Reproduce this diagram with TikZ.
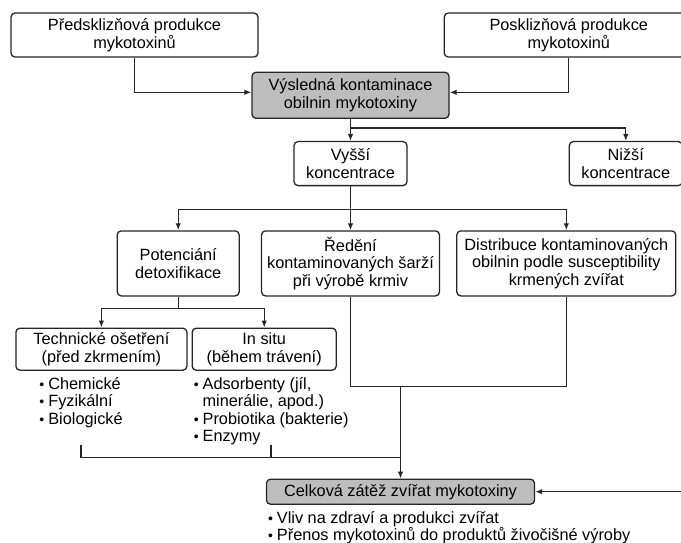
\documentclass[tikz,border=0pt]{standalone}
\usepackage{fontspec}
\setmainfont{Liberation Sans}
\usepackage{tikz}
\usetikzlibrary{arrows.meta, positioning}
\definecolor{boxgray}{gray}{0.74}
\tikzset{
  box/.style={
    rectangle,
    draw=black!85,
    line width=1.3pt,
    fill=white,
    rounded corners=4pt,
    align=center,
    inner sep=2pt,
    minimum height=44pt
  },
  graybox/.style={
    box,
    fill=boxgray
  },
  arrow/.style={
    line width=1.3pt,
    draw=black!85,
    -{Latex[length=7pt,width=5.5pt]}
  },
  line/.style={
    line width=1.3pt,
    draw=black!85
  },
  list/.style={
    align=left,
    inner sep=0pt
  }
}
\newcommand{\blt}{{\fontsize{14}{14}\selectfont •}\hspace{4pt}}

\begin{document}
\begin{tikzpicture}[font=\fontsize{16.3}{17.5}\selectfont]
  \useasboundingbox (0,0) rectangle (681pt,-543pt);
  \clip (0,0) rectangle (681pt,-543pt);

  % Sources
  \node[box, minimum width=247pt] (pre) at (134.5pt,-35pt) {Předsklizňová produkce\\mykotoxinů};
  \node[box, minimum width=249pt, right=185pt of pre] (post) {Posklizňová produkce\\mykotoxinů};
  \node[graybox, minimum width=197pt, minimum height=46pt, below=14pt of pre, xshift=216pt] (res) {Výsledná kontaminace\\obilnin mykotoxiny};

  % Concentration
  \node[box, minimum width=113pt, below=22pt of res] (hi) {Vyšší\\koncentrace};
  \node[box, minimum width=113pt, right=161pt of hi] (lo) {Nižší\\koncentrace};

  % Measures
  \node[box, minimum width=178pt, minimum height=65pt, below=44pt of hi] (dil) {Ředění\\kontaminovaných šarží\\při výrobě krmiv};
  \node[box, minimum width=122pt, minimum height=65pt, left=21pt of dil] (det) {Potenciání\\detoxifikace};
  \node[box, minimum width=219pt, minimum height=65pt, right=16pt of dil] (dist) {Distribuce kontaminovaných\\obilnin podle susceptibility\\krmených zvířat};

  % Detoxification
  \node[box, minimum width=144pt, minimum height=42pt, below=31pt of det, xshift=86pt] (situ) {In situ\\(během trávení)};
  \node[box, minimum width=171pt, minimum height=42pt, left=4pt of situ] (tech) {Technické ošetření\\(před zkrmením)};
  \node[list, below right=6pt and 24pt of tech.south west] (techlist) {\blt Chemické\\\blt Fyzikální\\\blt Biologické};
  \node[list, below right=6pt and 2pt of situ.south west] (situlist) {\blt Adsorbenty (jíl,\\\phantom{\blt}minerálie, apod.)\\\blt Probiotika (bakterie)\\\blt Enzymy};

  % Total load
  \node[graybox, minimum width=268pt, minimum height=25pt, below=182pt of dil, xshift=50pt] (tot) {Celková zátěž zvířat mykotoxiny};
  \node[list, below right=6pt and 2pt of tot.south west, font=\fontsize{16.3}{16}\selectfont] (totlist) {\blt Vliv na zdraví a produkci zvířat\\\blt Přenos mykotoxinů do produktů živočišné výroby};

  % Connectors
  \draw[arrow] (pre.south) |- ([yshift=3pt]res.west);
  \draw[arrow] (post.south) |- ([yshift=3pt]res.east);
  \draw[arrow] (res) -- (hi);
  \draw[arrow] ([yshift=-9pt]res.south) -| (lo);

  \draw[arrow] (hi) -- (dil);
  \draw[arrow] ([yshift=-23pt]hi.south) -| (det);
  \draw[arrow] ([yshift=-23pt]hi.south) -| (dist);

  \draw[line] (det) -- ([yshift=-12pt]det.south);
  \draw[arrow] ([yshift=-12pt]det.south) -| (tech);
  \draw[arrow] ([yshift=-12pt]det.south) -| (situ);

  \draw[line] (dil) -- ([yshift=-90pt]dil.south) coordinate (mix) -| (dist);
  \draw[arrow] (mix -| tot.north) -- (tot);

  % Bracket under the lists
  \coordinate (gath) at ([yshift=21pt]tot.north);
  \coordinate (gtop) at ([yshift=13pt]gath);
  \draw[line] (techlist.south |- gtop) |- (gath);
  \draw[line] (situlist.south |- gtop) -- (situlist.south |- gath);

  % Lower concentration to total load
  \draw[arrow] (lo.east) -- ++(20pt,0) |- (tot);
\end{tikzpicture}
\end{document}
